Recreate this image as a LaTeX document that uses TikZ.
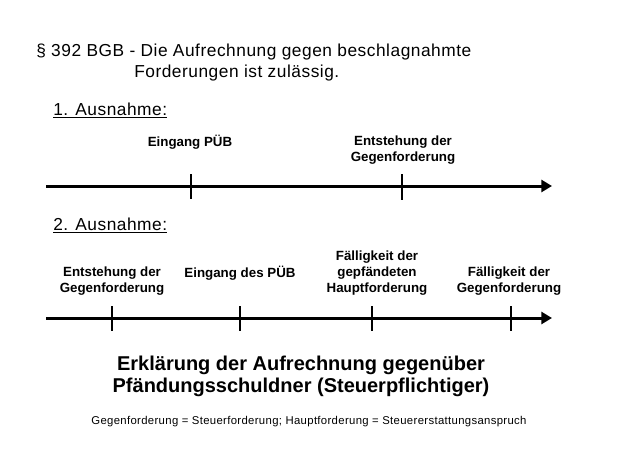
\documentclass[tikz,border=0pt]{standalone}
\usepackage{fontspec}
\setmainfont{Liberation Sans}
\newfontfamily\spacedfont{Liberation Sans}[LetterSpace=3]
\usetikzlibrary{arrows.meta}

\begin{document}
\begin{tikzpicture}[x=0.75pt,y=-0.75pt]
        % Define styles
        \tikzset{
            heading/.style={anchor=base west, inner sep=0pt, font=\spacedfont\fontsize{13}{16}\selectfont},
            event/.style={align=center, inner sep=0pt, font=\bfseries\fontsize{10}{12}\selectfont},
            axis/.style={-{Triangle[length=8pt,width=9pt]}, line width=2.25pt},
            tick/.style={line width=1.5pt}
        }
        \useasboundingbox (0,0) rectangle (619,464);

        % Nodes
        \node[heading] (title_node_1) at (36,56) {§ 392 BGB - Die Aufrechnung gegen beschlagnahmte};
        \node[heading] (title_node_2) at (134,77) {Forderungen ist zulässig.};

        \node[heading] (case_node_1) at (53,115) {\underline{1. Ausnahme:}};
        \node[event] (event_node_1) at (190,142) {Eingang PÜB};
        \node[event] (event_node_2) at (403,150) {Entstehung der\\Gegenforderung};

        \node[heading] (case_node_2) at (53,230) {\underline{2. Ausnahme:}};
        \node[event] (event_node_3) at (112,281) {Entstehung der\\Gegenforderung};
        \node[event] (event_node_4) at (240,273) {Eingang des PÜB};
        \node[event] (event_node_5) at (377,273) {Fälligkeit der\\gepfändeten\\Hauptforderung};
        \node[event] (event_node_6) at (509,281) {Fälligkeit der\\Gegenforderung};

        \node[align=center, inner sep=0pt, font=\bfseries\fontsize{15}{16.5}\selectfont] (result_node) at (301,376) {Erklärung der Aufrechnung gegenüber\\Pfändungsschuldner (Steuerpflichtiger)};

        % Time axes
        \coordinate (axis_start_1) at (46,186);
        \coordinate (axis_end_1) at (552,186);
        \coordinate (axis_start_2) at (46,318);
        \coordinate (axis_end_2) at (552,318);
        \draw[axis] (axis_start_1) -- (axis_end_1);
        \draw[axis] (axis_start_2) -- (axis_end_2);

        % Ticks
        \coordinate (tick_1) at (191,186);
        \coordinate (tick_2) at (402,186);
        \coordinate (tick_3) at (112,318);
        \coordinate (tick_4) at (240,318);
        \coordinate (tick_5) at (372,318);
        \coordinate (tick_6) at (511,318);
        \draw[tick] (tick_1) ++(0,-12) -- ++(0,25);
        \draw[tick] (tick_2) ++(0,-12) -- ++(0,26);
        \draw[tick] (tick_3) ++(0,-12) -- ++(0,25);
        \draw[tick] (tick_4) ++(0,-12) -- ++(0,25);
        \draw[tick] (tick_5) ++(0,-12) -- ++(0,25);
        \draw[tick] (tick_6) ++(0,-12) -- ++(0,25);

        % Footnote
        \node[inner sep=0pt, font=\spacedfont\fontsize{8.5}{10}\selectfont] (note_node) at (309,422) {Gegenforderung = Steuerforderung; Hauptforderung = Steuererstattungsanspruch};
    \end{tikzpicture}
\end{document}
